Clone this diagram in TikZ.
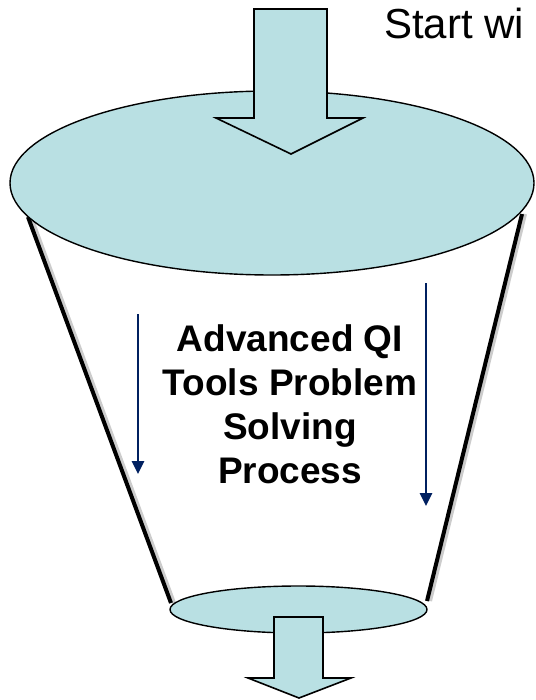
\documentclass[tikz,border=0pt]{standalone}
\usepackage{fontspec}
\setmainfont{Liberation Sans}
\usepackage[HTML]{xcolor}
\usepackage{tikz}
\usetikzlibrary{arrows.meta}

\definecolor{funnelfill}{HTML}{B9E0E3}
\definecolor{flownavy}{HTML}{002060}

\begin{document}
\begin{tikzpicture}[x=1pt,y=-1pt,
  rim/.style={fill=funnelfill,draw=black,line width=1.4pt},
  blockarrow/.style={fill=funnelfill,draw=black,line width=1.6pt,line join=miter},
  flowarrow/.style={flownavy,line width=2.6pt,-{Triangle[length=13pt,width=12pt]}}]
\useasboundingbox (0,0) rectangle (535,700);
\clip (0,0) rectangle (535,700);

% --- Funnel sides ---
\coordinate (lefttop) at (28,217);
\coordinate (leftbot) at (171,603);
\coordinate (righttop) at (522,214);
\coordinate (rightbot) at (427,601);
\draw[black!20,line width=4pt] ([xshift=3pt]lefttop) -- ([xshift=3pt]leftbot);
\draw[black!20,line width=4pt] ([xshift=3pt]righttop) -- ([xshift=3pt]rightbot);
\draw[line width=4pt] (lefttop) -- (leftbot);
\draw[line width=4pt] (righttop) -- (rightbot);

% --- Rims ---
\draw[rim] (272,183) ellipse [x radius=262,y radius=92];
\draw[rim] (298.5,609.5) ellipse [x radius=128.5,y radius=23.5];

% --- Block arrows ---
\draw[blockarrow] (254,9)--(327,9)--(327,118)--(363,118)--(291,154)--(216,118)--(254,118)--cycle;
\draw[blockarrow] (274,617)--(323,617)--(323,678)--(351,678)--(299,698)--(248,678)--(274,678)--cycle;

% --- Flow arrows ---
\coordinate (leftflowa) at (138,314);
\coordinate (leftflowb) at (138,474);
\coordinate (rightflowa) at (426,283);
\coordinate (rightflowb) at (426,506);
\draw[flowarrow] (leftflowa) -- (leftflowb);
\draw[flowarrow] (rightflowa) -- (rightflowb);

% --- Labels ---
\node[anchor=base west,inner sep=0pt,font=\fontsize{42}{48}\selectfont] (start) at (384,39) {Start wi};
\node[anchor=base,inner sep=0pt,align=center,font=\fontsize{37}{44}\selectfont\bfseries] (process) at (290,483)
  {Advanced QI\\Tools Problem\\Solving\\Process};
\end{tikzpicture}
\end{document}
